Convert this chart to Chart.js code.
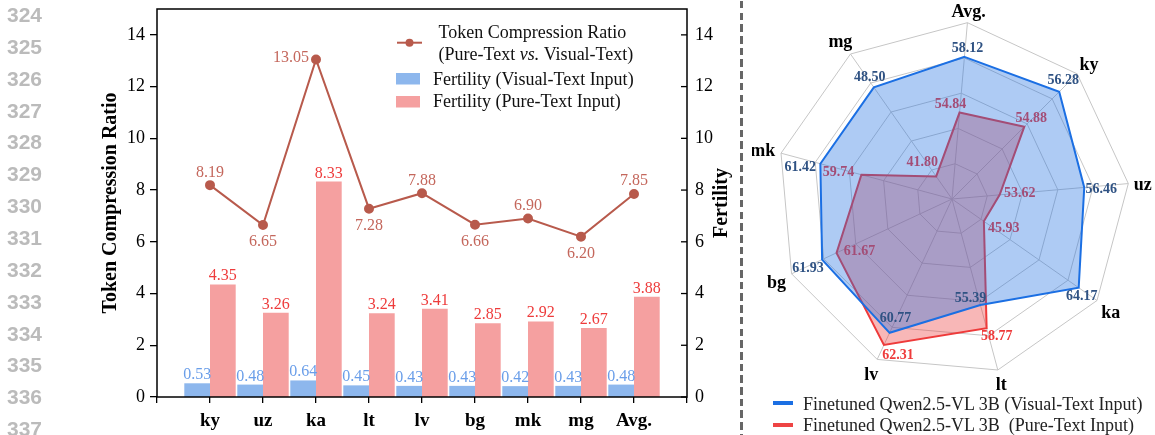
<!DOCTYPE html>
<html>
<head>
<meta charset="utf-8">
<script src="https://cdn.jsdelivr.net/npm/chart.js@4.4.1/dist/chart.umd.min.js"></script>
<style>
    html, body { margin: 0; padding: 0; background: #fff; }
    #page { position: relative; width: 1155px; height: 435px; overflow: hidden; }
    .ln { position: absolute; left: 7px; height: 24px; line-height: 24px; font: bold 21px "Liberation Sans", Arial, sans-serif; color: #bbb; }
    #divider { position: absolute; left: 740px; top: 1px; width: 3px; height: 434px;
        background: repeating-linear-gradient(to bottom, #666 0 7.5px, transparent 7.5px 11.7px); }
    #barCanvas { position: absolute; left: 0; top: 0; }
    #radarCanvas { position: absolute; left: 752px; top: 0; }
    .swatch { position: absolute; left: 773px; width: 20px; height: 4px; }
    .rleg { position: absolute; left: 803px; height: 20px; line-height: 20px; font: 18px "Liberation Serif", "Times New Roman", serif; color: #222; white-space: pre; }
</style>
</head>
<body>
<div id="page">
    <canvas id="barCanvas" width="742" height="435"></canvas>
    <div id="divider"></div>
    <canvas id="radarCanvas" width="400" height="398"></canvas>
    <div class="swatch" style="top:401px;background:#1b6fe3"></div>
    <div class="rleg" style="top:394px">Finetuned Qwen2.5-VL 3B (Visual-Text Input)</div>
    <div class="swatch" style="top:423px;background:#ee4444"></div>
    <div class="rleg" style="top:415px">Finetuned Qwen2.5-VL 3B  (Pure-Text Input)</div>
</div>
<script>
// dane — lewy wykres (słupki + linia)
const categories = ["ky", "uz", "ka", "lt", "lv", "bg", "mk", "mg", "Avg."];
const compressionRatio = [8.19, 6.65, 13.05, 7.28, 7.88, 6.66, 6.90, 6.20, 7.85];
const fertilityVisual = [0.53, 0.48, 0.64, 0.45, 0.43, 0.43, 0.42, 0.43, 0.48];
const fertilityPure = [4.35, 3.26, 8.33, 3.24, 3.41, 2.85, 2.92, 2.67, 3.88];
const yTicks = [0, 2, 4, 6, 8, 10, 12, 14];
const ratioLabelSide = ["above", "below", "left", "below", "above", "below", "above", "below", "above"];

// dane — radar (każda oś ma własny zakres)
const radarAxes = ["Avg.", "ky", "uz", "ka", "lt", "lv", "bg", "mk", "mg"];
const radarVisual = [58.12, 56.28, 56.46, 64.17, 55.39, 60.77, 61.93, 61.42, 48.50];
const radarPure = [54.84, 54.88, 53.62, 45.93, 58.77, 62.31, 61.67, 59.74, 41.80];
const axisMin = [49.75, 51.98, 52.02, 39.8, 39.98, 43.87, 59.59, 56.03, 40.1];
const axisMax = [60.13, 57.0, 57.94, 67.69, 64.83, 64.13, 62.48, 63.03, 51.01];

// przesunięcia etykiet wartości na radarze (px)
const visualLabelShift = [[3, -8], [4, -11], [17, 2], [3, 9], [-10, -7], [6, -14], [-14, 9], [-20, 4], [-4, -10]];
const pureLabelShift = [[-9, -8], [7, -8], [20, -1], [20, 7], [10, 8], [14, 10], [23, -1], [-23, -2], [-14, -14]];

const serif = '"Liberation Serif", "Times New Roman", serif';
const ratioColor = "#b85a4c";
const blueBar = "#8db7ed";
const redBar = "#f5a0a0";

// numery linii po lewej
const page = document.getElementById("page");
for (let i = 0; i < 14; i++) {
    const d = document.createElement("div");
    d.className = "ln";
    d.style.top = (15 + i * 31.85 - 12) + "px";
    d.textContent = String(324 + i);
    page.appendChild(d);
}

const pad = (arr) => [null, ...arr, null];
const setTicks = (scale) => { scale.ticks = yTicks.map((v) => ({ value: v })); };
// bez dodatkowego marginesu na połowę etykiety — obszar wykresu ma sięgać y=9
const fitY = (w) => (s) => { s.width = w; s.paddingTop = 0; s.paddingBottom = 0; };

const barDecor = {
    id: "barDecor",
    afterDraw(chart) {
        const { ctx, chartArea: a } = chart;
        ctx.save();
        // ramka
        ctx.strokeStyle = "#000";
        ctx.lineWidth = 1.5;
        ctx.strokeRect(a.left, a.top, a.right - a.left, a.bottom - a.top);
        // ticki prawej osi do środka
        const y1 = chart.scales.y1;
        ctx.lineWidth = 1.3;
        yTicks.forEach((v) => {
            const y = y1.getPixelForValue(v);
            ctx.beginPath();
            ctx.moveTo(a.right - 6, y);
            ctx.lineTo(a.right, y);
            ctx.stroke();
        });

        // tytuły osi
        ctx.fillStyle = "#000";
        ctx.font = "bold 20px " + serif;
        ctx.textAlign = "center";
        ctx.textBaseline = "middle";
        const midY = (a.top + a.bottom) / 2;
        [["Token Compression Ratio", a.left - 46], ["Fertility", a.right + 35]].forEach(([t, x]) => {
            ctx.save();
            ctx.translate(x, midY);
            ctx.rotate(-Math.PI / 2);
            ctx.fillText(t, 0, 0);
            ctx.restore();
        });

        // etykiety słupków
        ctx.font = "16px " + serif;
        ctx.textBaseline = "alphabetic";
        [[1, fertilityVisual, "#6a9ee9"], [2, fertilityPure, "#ee3b3b"]].forEach(([di, vals, col]) => {
            const meta = chart.getDatasetMeta(di);
            ctx.fillStyle = col;
            vals.forEach((v, i) => {
                const el = meta.data[i + 1];
                ctx.fillText(v.toFixed(2), el.x, el.y - 4);
            });
        });

        // etykiety linii
        const lm = chart.getDatasetMeta(0);
        ctx.fillStyle = "#c4675c";
        compressionRatio.forEach((v, i) => {
            const p = lm.data[i + 1];
            const side = ratioLabelSide[i];
            if (side === "left") {
                ctx.textAlign = "right";
                ctx.fillText(v.toFixed(2), p.x - 7, p.y + 3);
            } else {
                ctx.textAlign = "center";
                ctx.fillText(v.toFixed(2), p.x, side === "above" ? p.y - 8.5 : p.y + 21.5);
            }
        });

        // legenda
        ctx.textAlign = "left";
        ctx.textBaseline = "middle";
        ctx.strokeStyle = ratioColor;
        ctx.fillStyle = ratioColor;
        ctx.lineWidth = 2;
        ctx.beginPath();
        ctx.moveTo(397, 42.7);
        ctx.lineTo(422, 42.7);
        ctx.stroke();
        ctx.beginPath();
        ctx.arc(409.5, 42.7, 4, 0, Math.PI * 2);
        ctx.fill();

        ctx.fillStyle = "#111";
        ctx.font = "18px " + serif;
        ctx.fillText("Token Compression Ratio", 438.5, 33);
        let x = 438.5;
        [["(Pure-Text ", ""], ["vs.", "italic "], [" Visual-Text)", ""]].forEach(([t, st]) => {
            ctx.font = st + "18px " + serif;
            ctx.fillText(t, x, 55);
            x += ctx.measureText(t).width;
        });
        ctx.font = "18px " + serif;
        ctx.fillStyle = blueBar;
        ctx.fillRect(396, 73, 24, 11.5);
        ctx.fillStyle = redBar;
        ctx.fillRect(396, 96, 24, 11.5);
        ctx.fillStyle = "#111";
        ctx.fillText("Fertility (Visual-Text Input)", 433, 80);
        ctx.fillText("Fertility (Pure-Text Input)", 433, 102.5);
        ctx.restore();
    },
};

new Chart(document.getElementById("barCanvas"), {
    type: "bar",
    data: {
        labels: ["", ...categories, ""],
        datasets: [
            {
                type: "line",
                label: "Token Compression Ratio",
                data: pad(compressionRatio),
                yAxisID: "y",
                order: 0,
                borderColor: ratioColor,
                backgroundColor: ratioColor,
                borderWidth: 2,
                pointRadius: 4,
                pointHoverRadius: 4,
                tension: 0,
            },
            {
                label: "Fertility (Visual-Text Input)",
                data: pad(fertilityVisual),
                yAxisID: "y1",
                order: 1,
                backgroundColor: blueBar,
                categoryPercentage: 0.97,
                barPercentage: 1,
            },
            {
                label: "Fertility (Pure-Text Input)",
                data: pad(fertilityPure),
                yAxisID: "y1",
                order: 1,
                backgroundColor: redBar,
                categoryPercentage: 0.97,
                barPercentage: 1,
            },
        ],
    },
    options: {
        responsive: false,
        animation: false,
        devicePixelRatio: 1,
        layout: { padding: { top: 9, left: 0, right: 0, bottom: 0 } },
        plugins: { legend: { display: false }, tooltip: { enabled: false } },
        scales: {
            x: {
                offset: false,
                grid: { offset: false, drawOnChartArea: false, color: "#000", lineWidth: 1.3, tickLength: 6 },
                border: { display: false },
                ticks: { autoSkip: false, maxRotation: 0, color: "#000", padding: 7, font: { family: serif, size: 19, weight: "bold" } },
                afterFit: (s) => { s.height = 38; s.paddingLeft = 0; s.paddingRight = 0; },
            },
            y: {
                position: "left",
                min: 0,
                max: 15,
                afterBuildTicks: setTicks,
                grid: { drawOnChartArea: false, color: "#000", lineWidth: 1.3, tickLength: 7 },
                border: { display: false },
                ticks: { color: "#000", padding: 5, font: { family: serif, size: 18 } },
                afterFit: fitY(157),
            },
            y1: {
                position: "right",
                min: 0,
                max: 15,
                afterBuildTicks: setTicks,
                grid: { display: false, drawTicks: false },
                border: { display: false },
                ticks: { color: "#000", padding: 8, font: { family: serif, size: 18 } },
                afterFit: fitY(55),
            },
        },
    },
    plugins: [barDecor],
});

// radar
const normalize = (vals) => vals.map((v, i) => (v - axisMin[i]) / (axisMax[i] - axisMin[i]));

const radarDecor = {
    id: "radarDecor",
    afterDatasetDraw(chart, args) {
        const { ctx } = chart;
        const vals = args.index === 0 ? radarVisual : radarPure;
        const shift = args.index === 0 ? visualLabelShift : pureLabelShift;
        ctx.save();
        ctx.font = "bold 14px " + serif;
        ctx.fillStyle = args.index === 0 ? "#2f5283" : "#ee3a3a";
        ctx.textAlign = "center";
        ctx.textBaseline = "middle";
        args.meta.data.forEach((p, j) => {
            ctx.fillText(vals[j].toFixed(2), p.x + shift[j][0], p.y + shift[j][1]);
        });
        ctx.restore();
    },
    afterDraw(chart) {
        const { ctx } = chart;
        const r = chart.scales.r;
        ctx.save();
        ctx.font = "bold 18px " + serif;
        ctx.fillStyle = "#000";
        ctx.textAlign = "center";
        ctx.textBaseline = "middle";
        radarAxes.forEach((lab, i) => {
            const a = r.getIndexAngle(i);
            const w = ctx.measureText(lab).width;
            const ext = Math.abs(Math.sin(a)) * w / 2 + Math.abs(Math.cos(a)) * 7;
            const pos = r.getPointPosition(i, r.drawingArea + 5 + ext);
            ctx.fillText(lab, pos.x, pos.y + 3);
        });
        ctx.restore();
    },
};

new Chart(document.getElementById("radarCanvas"), {
    type: "radar",
    data: {
        labels: radarAxes,
        datasets: [
            {
                label: "Finetuned Qwen2.5-VL 3B (Visual-Text Input)",
                data: normalize(radarVisual),
                borderColor: "#1b6fe3",
                backgroundColor: "rgba(30,110,225,0.36)",
                borderWidth: 2,
                pointRadius: 0,
                fill: true,
            },
            {
                label: "Finetuned Qwen2.5-VL 3B (Pure-Text Input)",
                data: normalize(radarPure),
                borderColor: "#ee3a3a",
                backgroundColor: "rgba(235,60,60,0.37)",
                borderWidth: 2,
                pointRadius: 0,
                fill: true,
            },
        ],
    },
    options: {
        responsive: false,
        animation: false,
        devicePixelRatio: 1,
        layout: { padding: 22 },
        plugins: { legend: { display: false }, tooltip: { enabled: false } },
        scales: {
            r: {
                min: 0,
                max: 1,
                startAngle: 5,
                ticks: { display: false, stepSize: 0.2 },
                grid: { color: "#c6c6c6", lineWidth: 1 },
                angleLines: { color: "#c6c6c6", lineWidth: 1 },
                pointLabels: { display: false },
            },
        },
    },
    plugins: [radarDecor],
});
</script>
</body>
</html>
